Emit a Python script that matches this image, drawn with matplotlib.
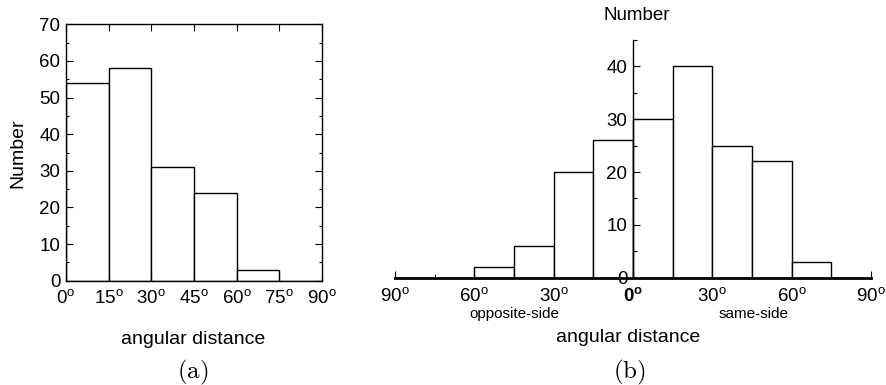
import matplotlib
matplotlib.use("Agg")
import matplotlib.pyplot as plt
import numpy as np
from matplotlib.ticker import MultipleLocator

plt.rcParams['font.family'] = ['Liberation Sans', 'DejaVu Sans']
plt.rcParams['mathtext.fontset'] = 'custom'
plt.rcParams['mathtext.rm'] = 'Liberation Sans'
plt.rcParams['mathtext.it'] = 'Liberation Sans:italic'
plt.rcParams['mathtext.bf'] = 'Liberation Sans:bold'

# ---- data ----
bin_edges_a = [0, 15, 30, 45, 60, 75, 90]
counts_a = [54, 58, 31, 24, 3, 0]

bin_edges_b = [-90, -75, -60, -45, -30, -15, 0, 15, 30, 45, 60, 75, 90]
counts_b = [0, 0, 2, 6, 20, 26, 30, 40, 25, 22, 3, 0]

xticks_a = [0, 15, 30, 45, 60, 75, 90]
xticks_b = [-90, -60, -30, 0, 30, 60, 90]

W, H = 886, 385
fig = plt.figure(figsize=(W / 100, H / 100), dpi=100)

def fx(px):
    return px / W

def fy(py):
    return 1 - py / H

def deg(v, bold=False):
    if bold:
        return r'$\mathbf{%d^{o}}$' % abs(v)
    return r'%d$^{\rm o}$' % abs(v)

# ---- panel (a) ----
axa = fig.add_axes([fx(66), fy(280.7), fx(322 - 66), (280.7 - 24.3) / H])
lefts_a = np.array(bin_edges_a[:-1])
widths_a = np.diff(bin_edges_a)
axa.bar(lefts_a, counts_a, width=widths_a, align='edge', facecolor='white',
        edgecolor='black', linewidth=1.0)
axa.set_xlim(0, 90)
axa.set_ylim(0, 70)
axa.set_xticks(xticks_a)
axa.set_xticklabels([deg(v) for v in xticks_a])
axa.yaxis.set_major_locator(MultipleLocator(10))
axa.yaxis.set_minor_locator(MultipleLocator(5))
axa.tick_params(axis='both', which='both', direction='in', top=True, right=True,
                labelsize=13.5, width=0.8)
axa.tick_params(axis='both', which='major', length=5)
axa.tick_params(axis='both', which='minor', length=2.5)
axa.tick_params(axis='x', pad=6)
axa.tick_params(axis='y', pad=4)
for s in axa.spines.values():
    s.set_linewidth(1.0)

fig.text(fx(18), fy(153), 'Number', rotation=90, ha='center', va='center', fontsize=14)
fig.text(fx(193), fy(340), 'angular distance', ha='center', va='center', fontsize=14)
fig.text(fx(193), fy(372), r'$\mathrm{(a)}$', ha='center', va='center', fontsize=18,
         math_fontfamily='cm')

# ---- panel (b) ----
axb = fig.add_axes([fx(395), fy(277.7), fx(871 - 395), (277.7 - 40) / H])
lefts_b = np.array(bin_edges_b[:-1])
widths_b = np.diff(bin_edges_b)
axb.bar(lefts_b, counts_b, width=widths_b, align='edge', facecolor='white',
        edgecolor='black', linewidth=1.0, zorder=1)
axb.set_xlim(-90, 90)
axb.set_ylim(0, 45)
axb.spines['top'].set_visible(False)
axb.spines['right'].set_visible(False)
axb.spines['left'].set_position(('data', 0))
axb.spines['left'].set_linewidth(1.0)
axb.spines['left'].set_zorder(3)
axb.spines['bottom'].set_linewidth(2.0)
axb.spines['bottom'].set_zorder(3)
axb.xaxis.set_zorder(4)
axb.yaxis.set_zorder(4)
axb.set_xticks(xticks_b)
axb.set_xticklabels([deg(v, bold=(v == 0)) for v in xticks_b])
axb.xaxis.set_minor_locator(MultipleLocator(15))
axb.yaxis.set_major_locator(MultipleLocator(10))
axb.yaxis.set_minor_locator(MultipleLocator(5))
axb.tick_params(axis='both', which='both', direction='in', labelsize=13.5, width=0.8)
axb.tick_params(axis='both', which='major', length=5)
axb.tick_params(axis='both', which='minor', length=3)
axb.tick_params(axis='x', pad=7)
axb.tick_params(axis='y', pad=4)

fig.text(fx(637), fy(16), 'Number', ha='center', va='center', fontsize=13.5)
fig.text(fx(514), fy(314), 'opposite-side', ha='center', va='center', fontsize=11)
fig.text(fx(754), fy(314), 'same-side', ha='center', va='center', fontsize=11)
fig.text(fx(628), fy(338), 'angular distance', ha='center', va='center', fontsize=14)
fig.text(fx(629), fy(372), r'$\mathrm{(b)}$', ha='center', va='center', fontsize=18,
         math_fontfamily='cm')

fig.savefig('out.png', dpi=100)
